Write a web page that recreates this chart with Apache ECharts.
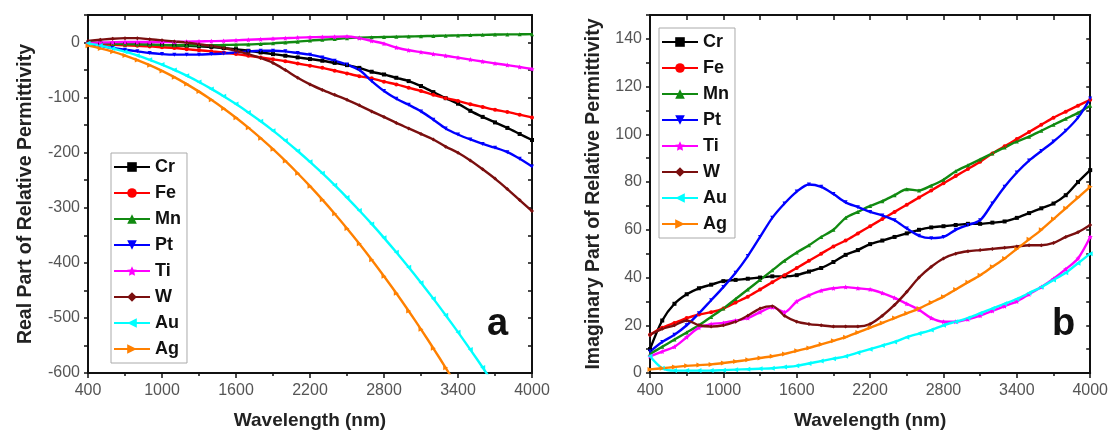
<!DOCTYPE html>
<html>
<head>
<meta charset="utf-8">
<script src="https://cdn.jsdelivr.net/npm/echarts@6/dist/echarts.min.js"></script>
<style>
html,body{margin:0;padding:0;background:#fff;}
#chart{width:1111px;height:439px;}
</style>
</head>
<body>
<div id="chart"></div>
<script>
// Shared wavelength grid (nm)
const wavelength = [400,500,600,700,800,900,1000,1100,1200,1300,1400,1500,1600,1700,1800,1900,2000,2100,2200,2300,2400,2500,2600,2700,2800,2900,3000,3100,3200,3300,3400,3500,3600,3700,3800,3900,4000];

const metals = ['Cr','Fe','Mn','Pt','Ti','W','Au','Ag'];

// Panel a: real part of relative permittivity
const realCr = [-2,-2,-2.5,-3,-3.5,-4,-4.5,-5,-6,-7,-8,-10,-12,-15,-18,-21,-24,-27,-30,-33,-37,-41,-46,-53,-58,-64,-70,-79,-90,-101,-111,-124,-135,-145,-155,-166,-177];
const realFe = [-2,-3,-4,-5,-6,-7,-8.5,-10,-12,-14,-16,-18,-21,-24,-27,-30.5,-34,-38,-42,-46,-51,-56,-61,-65,-71,-76,-82,-88,-95,-101,-106,-112,-117,-122,-126,-131,-136];
const realMn = [0,-1,-2,-3,-3.5,-4,-4.5,-5,-5,-5,-5,-4.5,-4,-3.5,-2.5,-1.5,0,1.5,3.5,5,6.5,8,9,9.5,10,10.5,11,11.5,12,12.5,13,13.5,14,14.5,14.8,15,15.2];
const realPt = [-2,-6,-10,-13,-16,-19,-21,-22,-22,-22,-21,-20,-18,-16,-15,-15,-16,-19,-22,-27,-33,-40,-50,-70,-88,-102,-113,-125,-140,-156,-167,-176,-184,-191,-199,-211,-225];
const realTi = [-1,0,0.5,1,1,1,1,1,1.5,2,2.5,3,4,5,6,7,8,9,9.5,10,10.5,11,8,3,-2,-9,-14,-17.5,-21,-24,-27.5,-31,-34.5,-38,-41,-44.5,-48];
const realW  = [3,5,7,8,8,6,4,2,0,-3,-6,-10,-15,-21,-28,-37,-50,-64,-76,-86,-95,-104,-114,-125,-135,-146,-156,-166,-176,-189,-200,-214,-230,-247,-266,-286,-306];
const realAu = [-1.4,-5.5,-10.6,-16.5,-23.4,-31.3,-40,-49.7,-60.2,-71.7,-84.2,-97.5,-111.8,-126.9,-143,-160,-178,-196.9,-216.6,-237.3,-259,-281.5,-305,-329.3,-354.6,-380.9,-408,-436,-465,-495,-525.8,-557.5,-590,-623.7,-658,-693.7,-730];
const realAg = [-5.7,-10.6,-16.6,-23.7,-31.9,-41.1,-51.5,-62.9,-75.5,-89.1,-103.8,-119.6,-136.5,-154.5,-173.6,-193.7,-215,-237.3,-260.8,-285.3,-310.9,-337.6,-365.4,-394.3,-424.3,-455.3,-487.5,-520.7,-555.1,-590.5,-627,-664.6,-706,-743,-784,-826,-869];

// Panel b: imaginary part of relative permittivity
const imagCr = [10,22,29,33,35.5,37,38.5,39,39.5,40,40.5,40.5,41,42.5,44,46.5,49.5,51.5,54,55.5,57,58.5,60,61,61.5,62,62.5,62.5,63,63.5,65,67,69,71,74.5,80,85];
const imagFe = [16,19,21,23,24.5,25.5,27,29.5,32,35,38,41,44,47,50,53,55.5,58.5,61.5,64.5,67.5,70.5,73.5,76.5,79.5,82.5,85.5,88.5,92,95,98,101,104,107,109.5,112,114.5];
const imagMn = [8,11,14,17,20,23.5,27,31,35,39,43,47,50.5,53.5,57,60,65,67.5,70,72,74.5,77,76.5,78.5,81,84.5,87,89.5,92,94.5,97,99,101.5,104,106.5,109,112];
const imagPt = [9,13,16,20,25,30.5,36,42,49,57,65,71,76,79,78,75,71.5,69.5,67.5,66,64,60.5,57.5,56.5,57,60,62,64,71,78,84,89,93,97,101.5,107,115];
const imagTi = [7,9,11,15,19,20.5,21,22,23,25.5,27.5,25.5,30,32.5,34.5,35.5,36,35.5,35,33.5,31.5,29,26.5,23,21.5,21.5,22.5,24,26,28,30,33,36,39.5,43.5,48,57];
const imagW  = [16,18.5,20,22,20,19.5,20,21.5,24,27,28,24,21.5,20.5,20,19.5,19.5,19.5,20.5,24,28.5,34,40,44.5,48,50,51,51.5,52,52.5,53,53.5,53.5,54.5,57,59,62];
const imagAu = [7,2,1,1,1,1,1.2,1.4,1.6,1.8,2,2.5,3,4,5,6,7,8.5,10,11.5,13,15,16.5,18,20,21.5,23,25,27,29,31,33.5,36,39,42,46,50];
const imagAg = [1.5,2,2.5,3,3.3,3.6,4.2,4.8,5.5,6.3,7,8,9.3,10.5,12,13.5,15,17,19,21,23,25,27,29.5,32,35,38,41,44.5,48,52,56,60,64.5,69,73.5,78];

const xTicks = [400,1000,1600,2200,2800,3400,4000];

const realData = [realCr, realFe, realMn, realPt, realTi, realW, realAu, realAg];
const imagData = [imagCr, imagFe, imagMn, imagPt, imagTi, imagW, imagAu, imagAg];

const colors = ['#000000','#ff0000','#118a11','#0000ff','#ff00ff','#7a0f0f','#00ffff','#ff8000'];
const starPath = 'path://M0,-10 L2.9,-4 L9.5,-3.1 L4.8,1.5 L5.9,8.1 L0,5 L-5.9,8.1 L-4.8,1.5 L-9.5,-3.1 L-2.9,-4 Z';
const symbols = ['rect','circle','triangle','triangle',starPath,'diamond','triangle','triangle'];
const rotations = [0,0,0,180,0,0,90,-90];
const sizes = [4,4,4,4,5,4,5,5];

const FONT = '"Liberation Sans", Arial, sans-serif';

function mkSeries(data, xi, yi) {
  return metals.map((m, k) => ({
    name: m,
    type: 'line',
    xAxisIndex: xi,
    yAxisIndex: yi,
    data: wavelength.map((w, i) => [w, data[k][i]]),
    smooth: 0.3,
    showAllSymbol: true,
    symbol: symbols[k],
    symbolRotate: rotations[k],
    symbolSize: sizes[k],
    clip: true,
    lineStyle: { color: colors[k], width: 2.4 },
    itemStyle: { color: colors[k] },
    emphasis: { disabled: true },
    animation: false
  }));
}

const axisLine = { show: true, onZero: false, lineStyle: { color: '#111', width: 2 } };

function bottomX(gi) {
  return {
    type: 'value', gridIndex: gi, position: 'bottom', min: 400, max: 4000, interval: 600,
    axisLine: axisLine,
    axisTick: { show: true, inside: false, length: 5, lineStyle: { color: '#111', width: 1.5 } },
    minorTick: { show: true, splitNumber: 2, length: 3, lineStyle: { color: '#111', width: 1.5 } },
    splitLine: { show: false },
    axisLabel: { color: '#555', fontSize: 16, fontFamily: FONT, margin: 10,
      formatter: v => (xTicks.indexOf(v) >= 0 ? String(v) : '') },
    name: 'Wavelength (nm)', nameLocation: 'middle', nameGap: 38,
    nameTextStyle: { color: '#222', fontSize: 19, fontWeight: 'bold', fontFamily: FONT }
  };
}
function topX(gi) {
  return {
    type: 'value', gridIndex: gi, position: 'top', min: 400, max: 4000, interval: 300,
    axisLine: axisLine,
    axisTick: { show: true, inside: true, length: 5, lineStyle: { color: '#111', width: 1.5 } },
    splitLine: { show: false }, axisLabel: { show: false }
  };
}

const option = {
  backgroundColor: '#fff',
  animation: false,
  grid: [
    { left: 88, top: 15, width: 444, height: 358, containLabel: false },
    { left: 650, top: 15, width: 444, height: 358, containLabel: false }
  ],
  xAxis: [bottomX(0), topX(0), bottomX(1), topX(1)],
  yAxis: [
    {
      type: 'value', gridIndex: 0, position: 'left', min: -600, max: 50, interval: 50,
      axisLine: axisLine,
      axisTick: { show: true, inside: false, length: 4, lineStyle: { color: '#111', width: 1.5 } },
      splitLine: { show: false },
      axisLabel: { color: '#555', fontSize: 16, fontFamily: FONT, margin: 8,
        formatter: v => (v % 100 === 0 ? String(v) : '') },
      name: 'Real Part of Relative Permittivity', nameLocation: 'middle', nameGap: 52, nameRotate: 90,
      nameTextStyle: { color: '#222', fontSize: 19.5, fontWeight: 'bold', fontFamily: FONT }
    },
    {
      type: 'value', gridIndex: 0, position: 'right', min: -600, max: 50, interval: 50,
      axisLine: axisLine,
      axisTick: { show: true, inside: true, length: 4, lineStyle: { color: '#111', width: 1.5 } },
      splitLine: { show: false }, axisLabel: { show: false }
    },
    {
      type: 'value', gridIndex: 1, position: 'left', min: 0, max: 150, interval: 10,
      axisLine: axisLine,
      axisTick: { show: true, inside: false, length: 4, lineStyle: { color: '#111', width: 1.5 } },
      splitLine: { show: false },
      axisLabel: { color: '#555', fontSize: 16, fontFamily: FONT, margin: 8,
        formatter: v => (v % 20 === 0 && v <= 140 ? String(v) : '') },
      name: 'Imaginary Part of Relative Permittivity', nameLocation: 'middle', nameGap: 46, nameRotate: 90,
      nameTextStyle: { color: '#222', fontSize: 19.5, fontWeight: 'bold', fontFamily: FONT }
    },
    {
      type: 'value', gridIndex: 1, position: 'right', min: 0, max: 150, interval: 10,
      axisLine: axisLine,
      axisTick: { show: true, inside: true, length: 4, lineStyle: { color: '#111', width: 1.5 } },
      splitLine: { show: false }, axisLabel: { show: false }
    }
  ],
  legend: [
    {
      data: metals, orient: 'vertical', left: 111, top: 153,
      padding: [4, 6, 4, 2], borderColor: '#aaa', borderWidth: 1,
      itemWidth: 36, itemHeight: 12, itemGap: 6, selectedMode: false,
      textStyle: { color: '#111', fontSize: 18, fontWeight: 'bold', fontFamily: FONT, lineHeight: 20 }
    },
    {
      data: metals, orient: 'vertical', left: 659, top: 28,
      padding: [4, 6, 4, 2], borderColor: '#aaa', borderWidth: 1,
      itemWidth: 36, itemHeight: 12, itemGap: 6, selectedMode: false,
      textStyle: { color: '#111', fontSize: 18, fontWeight: 'bold', fontFamily: FONT, lineHeight: 20 }
    }
  ],
  graphic: [
    { type: 'text', left: 487, top: 306, style: { text: 'a', fill: '#111', font: 'bold 38px "Liberation Sans", Arial, sans-serif' } },
    { type: 'text', left: 1052, top: 306, style: { text: 'b', fill: '#111', font: 'bold 38px "Liberation Sans", Arial, sans-serif' } }
  ],
  series: mkSeries(realData, 0, 0).concat(mkSeries(imagData, 2, 2))
};

const chart = echarts.init(document.getElementById('chart'), null, { renderer: 'canvas' });
chart.setOption(option);
</script>
</body>
</html>
